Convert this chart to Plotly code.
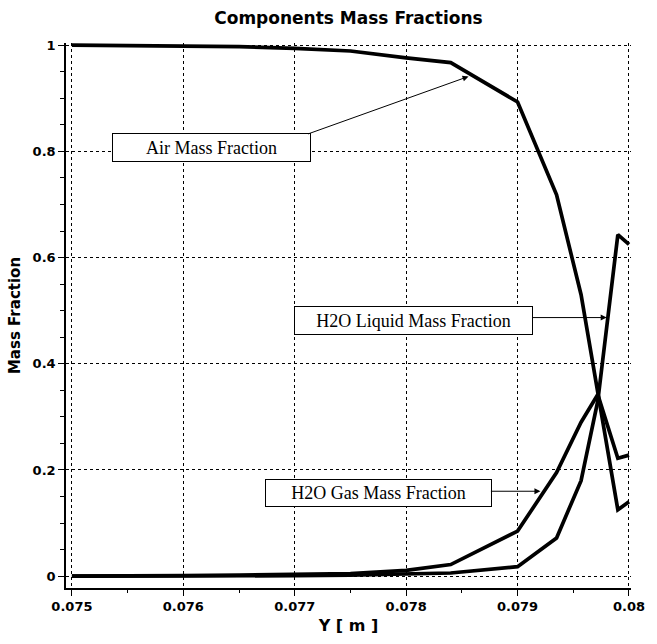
import plotly.graph_objects as go

# ---- data ----
y_pos = [0.075, 0.0755, 0.076, 0.0765, 0.077, 0.0775, 0.078, 0.0784,
         0.079, 0.07935, 0.07957, 0.07972, 0.0799, 0.08]
air_frac = [1.0, 0.999, 0.998, 0.997, 0.994, 0.989, 0.976, 0.967,
            0.893, 0.718, 0.53, 0.35, 0.125, 0.14]
gas_frac = [0.0, 0.0, 0.001, 0.002, 0.003, 0.005, 0.011, 0.022,
            0.085, 0.195, 0.29, 0.342, 0.222, 0.228]
liq_frac = [0.0, 0.0, 0.0, 0.0005, 0.001, 0.002, 0.004, 0.006,
            0.018, 0.072, 0.18, 0.33, 0.643, 0.625]

series_names = ["Air Mass Fraction", "H2O Gas Mass Fraction", "H2O Liquid Mass Fraction"]
x_ticks = [0.075, 0.076, 0.077, 0.078, 0.079, 0.08]
x_tick_text = ["0.075", "0.076", "0.077", "0.078", "0.079", "0.08"]
y_ticks = [0, 0.2, 0.4, 0.6, 0.8, 1]
y_tick_text = ["0", "0.2", "0.4", "0.6", "0.8", "1"]

fig = go.Figure()
for name, vals in zip(series_names, [air_frac, gas_frac, liq_frac]):
    fig.add_trace(go.Scatter(x=y_pos, y=vals, mode="lines", name=name,
                             line=dict(color="black", width=3.7)))

sans = "DejaVu Sans"
serif = "Liberation Serif"

fig.update_layout(
    width=657, height=644,
    margin=dict(l=66, r=17, t=43, b=47),
    paper_bgcolor="white", plot_bgcolor="white",
    showlegend=False,
    title=dict(text="Components Mass Fractions", x=0.5, xref="paper",
               y=1 - 18 / 644, yref="container", yanchor="middle", xanchor="center",
               font=dict(family=sans, size=17, color="black", weight="bold")),
)

fig.update_xaxes(
    range=[0.074947, 0.080018],
    tickvals=x_ticks, ticktext=x_tick_text,
    tickfont=dict(family=sans, size=13, color="black", weight="bold"),
    showline=True, linecolor="black", linewidth=1.5,
    ticks="outside", ticklen=6, tickcolor="black",
    minor=dict(dtick=0.0005, ticks="outside", ticklen=3, tickcolor="black", showgrid=False),
    showgrid=True, gridcolor="black", gridwidth=1, griddash="dot",
    zeroline=False,
    title=dict(text="Y [ m ]", standoff=6,
               font=dict(family=sans, size=16, color="black", weight="bold")),
)
fig.update_yaxes(
    range=[-0.0222, 1.004],
    tickvals=y_ticks, ticktext=y_tick_text,
    tickfont=dict(family=sans, size=13, color="black", weight="bold"),
    showline=True, linecolor="black", linewidth=1.5,
    ticks="outside", ticklen=6, tickcolor="black",
    minor=dict(dtick=0.05, tick0=0, ticks="outside", ticklen=4, tickcolor="black", showgrid=False),
    showgrid=True, gridcolor="black", gridwidth=1, griddash="dot",
    zeroline=False,
    title=dict(text="Mass Fraction", standoff=8,
               font=dict(family=sans, size=15, color="black", weight="bold")),
)

# labelled boxes
boxes = [
    (series_names[0], 0.07625, 0.8065, 191, 21),
    (series_names[2], 0.07807, 0.4824, 231, 21),
    (series_names[1], 0.07775, 0.157, 219, 20),
]
for text, bx, by, w, h in boxes:
    fig.add_annotation(x=bx, y=by, xref="x", yref="y", text=text, showarrow=False,
                       width=w, height=h, align="center", valign="middle",
                       bgcolor="white", bordercolor="black", borderwidth=1, borderpad=3,
                       font=dict(family=serif, size=18, color="black"))

# pointer arrows (head on curve, tail at box edge, in pixels)
arrows = [
    (0.07856, 0.941, -162, 58),
    (0.07980, 0.487, -76, 0),
    (0.079205, 0.160, -51, 0),
]
for hx, hy, ax, ay in arrows:
    fig.add_annotation(x=hx, y=hy, xref="x", yref="y", text="", showarrow=True,
                       ax=ax, ay=ay, arrowhead=2, arrowsize=1.2, arrowwidth=1,
                       arrowcolor="black")

fig.write_html("out.html")
